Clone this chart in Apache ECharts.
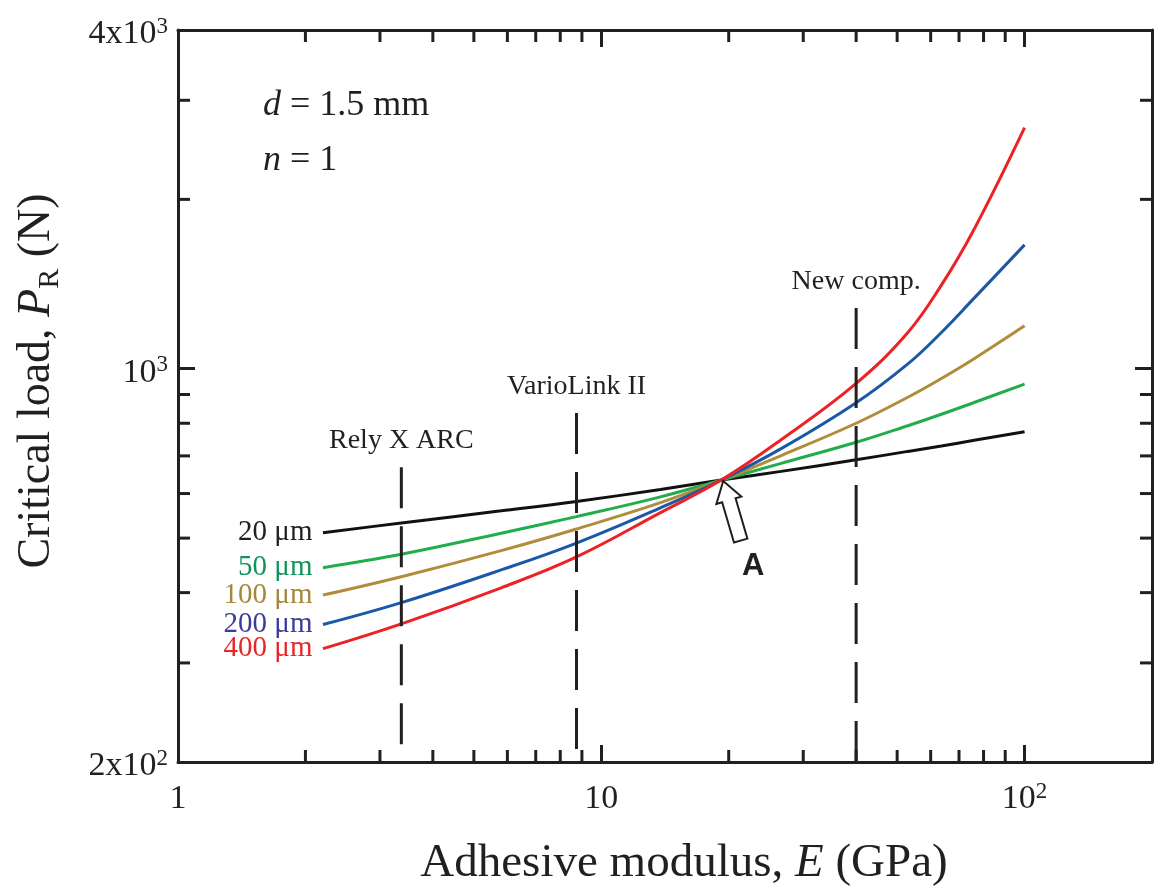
<!DOCTYPE html>
<html>
<head>
<meta charset="utf-8">
<script src="https://cdn.jsdelivr.net/npm/echarts@6/dist/echarts.min.js"></script>
<style>
html,body{margin:0;padding:0;background:#fff;}
#c{width:1157px;height:893px;}
</style>
</head>
<body>
<div id="c"></div>
<script>
// ---- data ----
const modulusGPa = [2.2, 3.37, 5.8, 8.74, 13.8, 19.2, 26.6, 40, 53, 63.6, 76, 100];
const thicknessLabels = ['20 μm', '50 μm', '100 μm', '200 μm', '400 μm'];
const load20  = [511, 532, 559, 581, 610, 634, 657, 689, 713, 729, 746, 773];
const load50  = [443, 468, 510, 546, 592, 634, 679, 740, 792, 830, 871, 939];
const load100 = [396, 427, 475, 519, 578, 634, 701, 800, 890, 961, 1042, 1192];
const load200 = [351, 384, 439, 490, 566, 634, 721, 870, 1020, 1160, 1335, 1660];
const load400 = [318, 352, 408, 463, 555, 634, 748, 942, 1160, 1408, 1770, 2683];

const cementNames = ['Rely X ARC', 'VarioLink II', 'New comp.'];
const cementModulus = [3.37, 8.74, 40];
const cementTop = [668, 834, 1282];
const cementBottom = [211, 207, 200];

const crossingPoint = [19.2, 634];

const xTickValues = [1, 10, 100];
const xTickLabels = ['{b|1}', '{b|10}', '{b|10}{s|2}'];
const yTickValues = [200, 1000, 4000];
const yTickLabels = ['{b|2x10}{s|2}', '{b|10}{s|3}', '{b|4x10}{s|3}'];
const xMinorTicks = [2, 3, 4, 5, 6, 7, 8, 9, 20, 30, 40, 50, 60, 70, 80, 90];
const yMinorTicks = [300, 400, 500, 600, 700, 800, 900, 2000, 3000];

// ---- styles ----
const serif = '"Liberation Serif","Times New Roman",serif';
const ink = '#231f20';
const lineColors = ['#111111', '#22ad4c', '#b08d3a', '#1c58a8', '#ec2226'];
const labelColors = ['#231f20', '#12935a', '#a5873c', '#3b3c9a', '#e8262a'];
const loads = [load20, load50, load100, load200, load400];

function tickText(values, labels, v) {
  for (let i = 0; i < values.length; i++) {
    if (Math.abs(v - values[i]) / values[i] < 1e-3) return labels[i];
  }
  return '';
}

const tickRich = {
  b: {fontFamily: serif, fontSize: 34, color: ink, lineHeight: 38},
  s: {fontFamily: serif, fontSize: 23, color: ink, lineHeight: 23, verticalAlign: 'top'}
};

const chart = echarts.init(document.getElementById('c'), null, {renderer: 'canvas'});

const baseAxis = {
  type: 'log', logBase: 10,
  axisLine: {show: true, onZero: false, lineStyle: {color: ink, width: 3}},
  axisTick: {show: true, inside: true, length: 17, lineStyle: {color: ink, width: 3}},
  splitLine: {show: false},
  minorTick: {show: false},
  minorSplitLine: {show: false}
};

const curveSeries = loads.map((arr, i) => ({
  name: thicknessLabels[i],
  type: 'line',
  smooth: 0.4,
  symbol: 'none',
  showSymbol: true,
  z: 3,
  lineStyle: {color: lineColors[i], width: 3},
  itemStyle: {color: lineColors[i]},
  label: {
    show: false, position: 'left', distance: 10,
    formatter: thicknessLabels[i],
    fontFamily: serif, fontSize: 29, color: labelColors[i]
  },
  data: modulusGPa.map((e, j) => j === 0
    ? {value: [e, arr[j]], symbol: 'circle', symbolSize: 1,
       itemStyle: {color: 'rgba(0,0,0,0)'}, label: {show: true}}
    : [e, arr[j]])
}));

const cementSeries = cementNames.map((nm, i) => ({
  name: nm,
  type: 'line',
  symbol: 'none',
  showSymbol: true,
  z: 4,
  lineStyle: {color: ink, width: 3, type: [41, 18]},
  label: {
    show: false, position: 'top', distance: 12,
    formatter: nm, fontFamily: serif, fontSize: 28, color: ink
  },
  data: [
    {value: [cementModulus[i], cementTop[i]], symbol: 'circle', symbolSize: 1,
     itemStyle: {color: 'rgba(0,0,0,0)'}, label: {show: true}},
    [cementModulus[i], cementBottom[i]]
  ]
}));

const minorTickLen = 12;
const xMinorSeries = {
  type: 'custom', silent: true, z: 5,
  data: xMinorTicks.map(v => [v, 1000]),
  renderItem: (params, api) => {
    const cs = params.coordSys;
    const x = api.coord([api.value(0), api.value(1)])[0];
    const yb = cs.y + cs.height, yt = cs.y;
    return {type: 'group', children: [
      {type: 'line', shape: {x1: x, y1: yb, x2: x, y2: yb - minorTickLen}, style: {stroke: ink, lineWidth: 3}},
      {type: 'line', shape: {x1: x, y1: yt, x2: x, y2: yt + minorTickLen}, style: {stroke: ink, lineWidth: 3}}
    ]};
  }
};
const yMinorSeries = {
  type: 'custom', silent: true, z: 5,
  data: yMinorTicks.map(v => [10, v]),
  renderItem: (params, api) => {
    const cs = params.coordSys;
    const y = api.coord([api.value(0), api.value(1)])[1];
    const xl = cs.x, xr = cs.x + cs.width;
    return {type: 'group', children: [
      {type: 'line', shape: {x1: xl, y1: y, x2: xl + minorTickLen, y2: y}, style: {stroke: ink, lineWidth: 3}},
      {type: 'line', shape: {x1: xr, y1: y, x2: xr - minorTickLen, y2: y}, style: {stroke: ink, lineWidth: 3}}
    ]};
  }
};

const annotationRich = {
  i: {fontFamily: serif, fontSize: 36, fontStyle: 'italic', fill: ink},
  n: {fontFamily: serif, fontSize: 36, fill: ink}
};

const option = {
  animation: false,
  backgroundColor: '#ffffff',
  grid: {left: 178, top: 30, width: 974, height: 732, containLabel: false, outerBoundsMode: 'none'},
  xAxis: [
    Object.assign({}, baseAxis, {
      min: 1, max: 200, position: 'bottom',
      name: '{n|Adhesive modulus, }{i|E}{n| (GPa)}',
      nameLocation: 'middle', nameGap: 78, nameMoveOverlap: false,
      nameTextStyle: {
        padding: [0, 0, 0, 38],
        rich: {
          n: {fontFamily: serif, fontSize: 47, color: ink},
          i: {fontFamily: serif, fontSize: 47, fontStyle: 'italic', color: ink}
        }
      },
      axisLabel: {
        show: true, margin: 18, color: ink, rich: tickRich,
        showMinLabel: true, showMaxLabel: true,
        formatter: v => tickText(xTickValues, xTickLabels, v)
      }
    }),
    Object.assign({}, baseAxis, {
      min: 1, max: 200, position: 'top',
      axisLabel: {show: false}
    })
  ],
  yAxis: [
    Object.assign({}, baseAxis, {
      min: 200, max: 4000, position: 'left',
      name: '{n|Critical load, }{i|P}{s|R}{n| (N)}',
      nameLocation: 'middle', nameGap: 113, nameRotate: 90, nameMoveOverlap: false,
      nameTextStyle: {
        padding: [0, 0, 0, 30],
        rich: {
          n: {fontFamily: serif, fontSize: 46, color: ink, lineHeight: 56},
          i: {fontFamily: serif, fontSize: 46, fontStyle: 'italic', color: ink, lineHeight: 56},
          s: {fontFamily: serif, fontSize: 30, color: ink, lineHeight: 30, verticalAlign: 'bottom'}
        }
      },
      axisLabel: {
        show: true, margin: 10, color: ink, rich: tickRich,
        padding: [8, 0, 0, 0],
        showMinLabel: true, showMaxLabel: true,
        formatter: v => tickText(yTickValues, yTickLabels, v)
      }
    }),
    Object.assign({}, baseAxis, {
      min: 200, max: 4000, position: 'right',
      axisLabel: {show: false}
    })
  ],
  series: [...curveSeries, ...cementSeries, xMinorSeries, yMinorSeries]
};

chart.setOption(option);

// annotations; arrow points at the common crossing point "A"
const tip = chart.convertToPixel({gridIndex: 0}, crossingPoint);
chart.setOption({
  graphic: [
    {
      type: 'text', left: 263, top: 88, z: 10,
      style: {text: '{i|d}{n| = 1.5 mm}', rich: annotationRich}
    },
    {
      type: 'text', left: 263, top: 143, z: 10,
      style: {text: '{i|n}{n| = 1}', rich: annotationRich}
    },
    {
      type: 'polygon', z: 20,
      x: tip[0] + 2, y: tip[1] + 1, rotation: 0.286,
      shape: {points: [[0, 0], [13, 20], [7, 20], [7, 62], [-7, 62], [-7, 20], [-13, 20]]},
      style: {fill: '#ffffff', stroke: ink, lineWidth: 2}
    },
    {
      type: 'text', z: 20,
      x: tip[0] + 32, y: tip[1] + 86,
      style: {
        text: 'A', fontFamily: '"Liberation Sans",Arial,sans-serif', fontWeight: 'bold',
        fontSize: 31, fill: ink, align: 'center', verticalAlign: 'middle'
      }
    }
  ]
});
</script>
</body>
</html>
